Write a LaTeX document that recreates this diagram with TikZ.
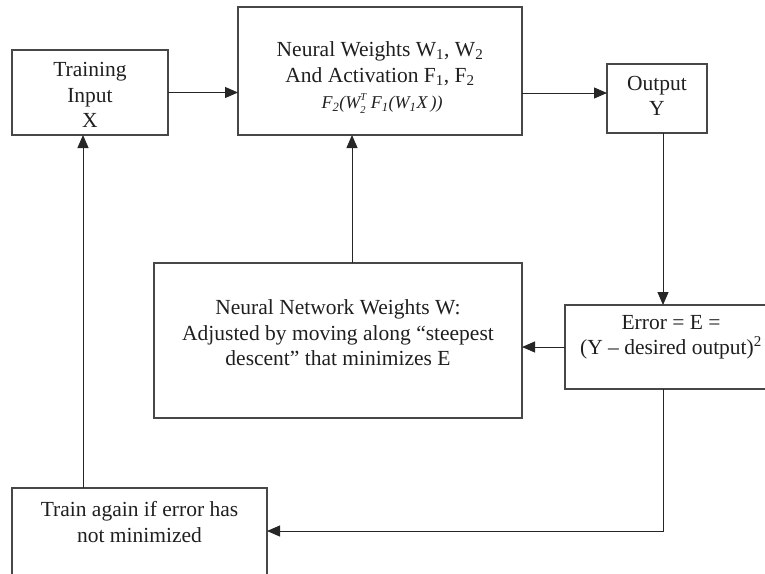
\documentclass[tikz,border=0pt]{standalone}
\usepackage{fontspec}
\setmainfont{Liberation Serif}
\usetikzlibrary{arrows.meta}
\newcommand{\smallidx}[1]{{\fontsize{10.5}{10.5}\selectfont #1}}
\begin{document}
\begin{tikzpicture}[x=1pt,y=-1pt,
  box/.style={draw=black!72, line width=1.2pt, outer sep=0pt, inner sep=0pt, rectangle},
  conn/.style={draw=black!85, line width=1pt, -{Triangle[length=13pt,width=11pt]}},
  txt/.style={align=center, text=black!88, font=\fontsize{21.5}{25.5}\selectfont, inner sep=0pt}]
\useasboundingbox (0,0) rectangle (765,573);
\clip (0,0) rectangle (765,573);
% boxes
\node[box, minimum width=156pt, minimum height=85pt] (ti) at (90,92.5) {};
\node[box, minimum width=284pt, minimum height=128pt] (nw) at (380,71) {};
\node[box, minimum width=100pt, minimum height=69pt] (out) at (657,98.5) {};
\node[box, minimum width=212pt, minimum height=84pt] (err) at (671,347) {};
\node[box, minimum width=368pt, minimum height=155pt] (nnw) at (338,340.5) {};
\node[box, minimum width=255pt, minimum height=102pt] (tr) at (139.5,539) {};
% texts
\node[txt] (tit) at (90,95) {Training\\Input\\X};
\node[txt] (nwt) at (380,63.5) {Neural Weights W\textsubscript{1}, W\textsubscript{2}\\And Activation F\textsubscript{1}, F\textsubscript{2}};
\node[txt, font=\fontsize{18}{20}\selectfont\itshape] (nwf) at (382,103.5) {F\textsubscript{2}(W\rlap{\raisebox{0.45em}{\smallidx{T}}}\raisebox{-0.28em}{\smallidx{2}}\hspace{0.3em}F\textsubscript{1}(W\textsubscript{1}X\,))};
\node[txt] (outt) at (657,96) {Output\\Y};
\node[txt] (errt) at (671,337) {Error = E =\\(Y – desired output)\textsuperscript{2}};
\node[txt] (nnwt) at (338,333) {Neural Network Weights W:\\Adjusted by moving along “steepest\\descent” that minimizes E};
\node[txt] (trt) at (139.5,522) {Train again if error has\\not minimized};
% connectors
\coordinate (c1) at (0,93);
\coordinate (c2) at (663,0);
\coordinate (c3) at (352,0);
\coordinate (c4) at (0,531);
\coordinate (c5) at (83,0);
\draw[conn] (ti.east) -- (ti.east -| nw.west);
\draw[conn] (nw.east |- c1) -- (out.west |- c1);
\draw[conn] (out.south -| c2) -- (err.north -| c2);
\draw[conn] (err.west) -- (err.west -| nnw.east);
\draw[conn] (nnw.north -| c3) -- (nw.south -| c3);
\draw[conn] (err.south -| c2) |- (tr.east |- c4);
\draw[conn] (tr.north -| c5) -- (ti.south -| c5);
\end{tikzpicture}
\end{document}
